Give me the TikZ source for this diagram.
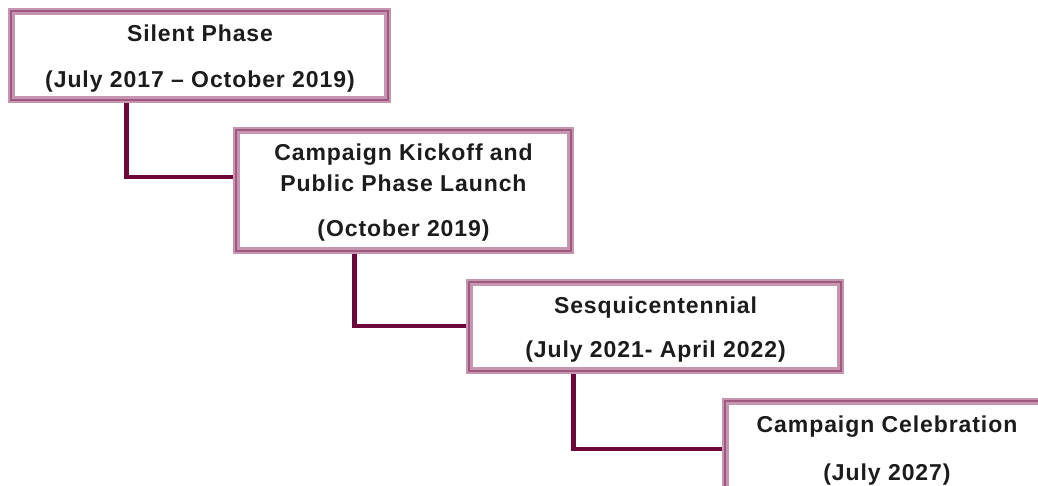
\documentclass[tikz,border=0pt]{standalone}
\usepackage{fontspec}
\newfontfamily\boxfont{Liberation Sans}[LetterSpace=4]
\usetikzlibrary{calc}
\definecolor{borderlight}{RGB}{198,150,176}
\definecolor{borderdark}{RGB}{160,88,126}
\definecolor{connclr}{RGB}{108,8,58}
\definecolor{txtclr}{RGB}{28,28,28}
\tikzset{
  phasebox/.style={draw=borderlight, double=borderdark, line width=2pt, double distance=1.8pt, fill=white, inner sep=0pt},
  boxedge/.style={draw=borderlight, double=borderdark, line width=2pt, double distance=1.8pt},
  conn/.style={draw=connclr, line width=4.5pt},
  lbl/.style={anchor=base, inner sep=0pt, text=txtclr, font=\boxfont\bfseries\fontsize{23}{26}\selectfont}
}
\begin{document}
\begin{tikzpicture}[x=1pt,y=-1pt]
\useasboundingbox (0,0) rectangle (1038,486);
% boxes
\node[phasebox, minimum width=375pt, minimum height=87pt] (b1) at (199.5,55.5) {};
\node[phasebox, minimum width=333pt, minimum height=119pt] (b2) at (403.5,190.5) {};
\node[phasebox, minimum width=370pt, minimum height=87pt] (b3) at (655,326.5) {};
\node[phasebox, minimum width=324pt, minimum height=92pt] (b4) at (888,448) {};
% connectors
\draw[conn] ($(b1.south west)!0.307!(b1.south east)$) coordinate (c1s) |- ($(b2.north west)!0.387!(b2.south west)$) coordinate (c1e);
\draw[conn] ($(b2.south west)!0.354!(b2.south east)$) coordinate (c2s) |- ($(b3.north west)!0.494!(b3.south west)$) coordinate (c2e);
\draw[conn] ($(b3.south west)!0.281!(b3.south east)$) coordinate (c3s) |- ($(b4.north west)!0.51!(b4.south west)$) coordinate (c3e);
% box borders over connector ends
\draw[boxedge] (b1.north west) rectangle (b1.south east);
\draw[boxedge] (b2.north west) rectangle (b2.south east);
\draw[boxedge] (b3.north west) rectangle (b3.south east);
\draw[boxedge] (b4.north west) rectangle (b4.south east);
% labels
\node[lbl] (t1a) at (200,41.5) {Silent Phase};
\node[lbl] (t1b) at (200,88) {(July 2017 – October 2019)};
\node[lbl] (t2a) at (403.5,161) {Campaign Kickoff and};
\node[lbl] (t2b) at (403.5,192) {Public Phase Launch};
\node[lbl] (t2c) at (403.5,237) {(October 2019)};
\node[lbl] (t3a) at (655.5,313) {Sesquicentennial};
\node[lbl] (t3b) at (655.5,357) {(July 2021- April 2022)};
\node[lbl] (t4a) at (887,432.5) {Campaign Celebration};
\node[lbl] (t4b) at (887,480) {(July 2027)};
\end{tikzpicture}
\end{document}
